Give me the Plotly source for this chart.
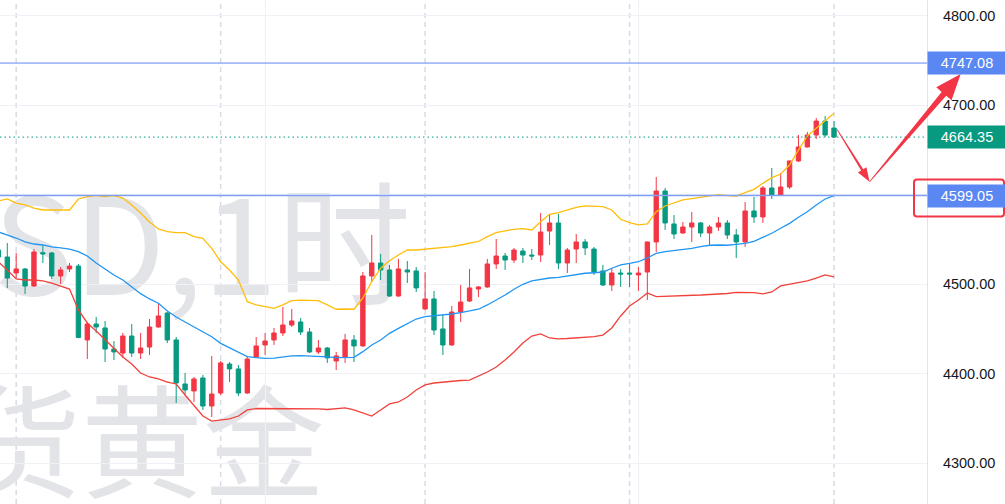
import math
import plotly.graph_objects as go

# ---------------- data ----------------
idx = list(range(-1, 94))

open_ = [4538.2, 4530.4, 4512.5, 4517.0, 4498.0, 4535.2, 4534.9, 4509.2, 4517.0, 4520.3,
         4437.7, 4455.5, 4451.1, 4427.6, 4423.1, 4442.1, 4423.1, 4429.8, 4452.2, 4467.8,
         4437.7, 4388.5, 4380.7, 4395.2, 4363.9, 4378.4, 4410.8, 4405.3, 4378.4, 4418.7,
         4432.1, 4437.7, 4445.5, 4454.4, 4457.8, 4446.6, 4424.3, 4428.7, 4414.2, 4418.7,
         4437.7, 4431.0, 4509.2, 4523.7, 4515.9, 4486.8, 4515.9, 4514.8, 4472.3, 4483.5,
         4450.0, 4432.1, 4468.9, 4481.2, 4494.6, 4496.9, 4522.6, 4531.5, 4527.0, 4537.1,
         4532.6, 4532.6, 4559.4, 4568.4, 4523.7, 4539.3, 4547.2, 4539.3, 4514.8, 4499.1,
         4512.5, 4512.5, 4510.3, 4513.6, 4547.2, 4604.1, 4567.3, 4557.2, 4563.9, 4568.4,
         4557.2, 4563.9, 4568.4, 4555.0, 4547.2, 4581.8, 4575.1, 4607.5, 4599.7, 4608.6,
         4637.7, 4653.3, 4666.7, 4682.3, 4674.5]
high = [4540.5, 4546.0, 4534.9, 4518.1, 4539.3, 4543.8, 4536.0, 4519.2, 4523.7, 4522.6,
        4457.8, 4463.4, 4458.9, 4436.5, 4445.5, 4455.5, 4445.5, 4461.1, 4479.0, 4468.9,
        4441.0, 4400.8, 4396.3, 4398.6, 4419.8, 4414.2, 4413.1, 4409.7, 4419.8, 4441.0,
        4445.5, 4451.1, 4474.5, 4472.3, 4462.2, 4451.1, 4437.7, 4429.8, 4424.3, 4444.4,
        4443.2, 4513.6, 4555.0, 4533.8, 4521.5, 4528.2, 4525.9, 4519.2, 4513.6, 4492.4,
        4465.6, 4475.6, 4499.1, 4517.0, 4498.0, 4528.2, 4550.5, 4534.9, 4540.5, 4540.5,
        4539.3, 4579.6, 4577.3, 4578.4, 4540.5, 4556.1, 4550.5, 4541.6, 4521.5, 4518.1,
        4517.0, 4523.7, 4519.2, 4547.5, 4619.8, 4607.5, 4577.3, 4569.5, 4580.7, 4569.5,
        4566.2, 4575.1, 4571.7, 4561.7, 4591.8, 4597.4, 4609.7, 4629.8, 4624.2, 4637.9,
        4666.7, 4670.1, 4685.7, 4687.9, 4682.3]
low = [4527.0, 4495.8, 4506.9, 4489.1, 4497.0, 4523.7, 4505.8, 4500.2, 4513.6, 4439.5,
       4416.4, 4445.5, 4413.1, 4415.3, 4417.6, 4418.7, 4416.4, 4420.9, 4451.5, 4434.3,
       4367.3, 4376.2, 4368.4, 4359.5, 4351.6, 4376.2, 4390.7, 4375.1, 4377.5, 4418.0,
       4420.9, 4432.1, 4442.1, 4452.2, 4443.2, 4423.1, 4422.0, 4412.0, 4404.1, 4412.0,
       4413.1, 4430.0, 4502.5, 4504.7, 4485.7, 4486.0, 4501.3, 4491.3, 4471.2, 4443.2,
       4420.9, 4431.0, 4457.8, 4480.1, 4485.7, 4496.0, 4517.0, 4515.9, 4523.7, 4523.7,
       4527.0, 4524.8, 4543.8, 4517.0, 4512.5, 4523.7, 4532.6, 4510.3, 4498.0, 4492.4,
       4496.9, 4496.9, 4492.4, 4482.3, 4536.0, 4560.6, 4550.5, 4556.5, 4547.2, 4552.7,
       4543.8, 4559.4, 4550.5, 4529.3, 4541.6, 4568.4, 4568.4, 4595.2, 4599.0, 4606.4,
       4636.5, 4652.8, 4662.2, 4664.4, 4663.4]
close = [4530.4, 4506.9, 4517.0, 4498.0, 4536.0, 4533.8, 4509.2, 4515.9, 4520.3, 4440.5,
         4455.5, 4452.2, 4427.6, 4424.3, 4442.1, 4423.1, 4428.7, 4452.2, 4464.5, 4437.7,
         4389.6, 4381.8, 4394.1, 4363.9, 4377.3, 4412.0, 4405.3, 4378.4, 4416.4, 4431.0,
         4436.5, 4445.5, 4454.4, 4458.9, 4446.6, 4424.3, 4428.7, 4417.6, 4419.8, 4437.7,
         4431.0, 4509.2, 4523.7, 4515.9, 4486.8, 4517.0, 4513.6, 4495.8, 4483.5, 4448.8,
         4432.1, 4468.9, 4480.1, 4495.8, 4496.9, 4522.6, 4531.5, 4527.0, 4538.2, 4532.6,
         4531.5, 4558.3, 4568.4, 4523.7, 4538.2, 4547.2, 4540.5, 4513.6, 4499.1, 4512.5,
         4511.4, 4511.4, 4512.5, 4547.2, 4604.1, 4568.4, 4556.1, 4563.9, 4568.4, 4557.2,
         4563.9, 4568.4, 4555.0, 4547.2, 4581.8, 4575.1, 4607.5, 4599.7, 4608.6, 4637.7,
         4653.3, 4666.7, 4682.3, 4666.7, 4664.35]

bb_upper = [4593.0, 4595.2, 4590.7, 4588.5, 4585.1, 4582.9, 4582.9, 4582.9, 4582.9, 4595.2,
            4597.8, 4598.9, 4597.8, 4598.9, 4596.3, 4588.5, 4579.6, 4569.5, 4561.7, 4558.7,
            4557.6, 4557.6, 4553.1, 4551.3, 4540.1, 4525.1, 4515.9, 4504.7, 4480.5, 4476.8,
            4474.9, 4473.1, 4476.8, 4481.6, 4482.3, 4482.3, 4481.6, 4476.8, 4472.0, 4472.3,
            4472.0, 4484.6, 4502.8, 4517.8, 4526.3, 4532.6, 4538.2, 4538.2, 4539.0, 4540.1,
            4541.2, 4541.9, 4543.8, 4545.7, 4547.7, 4553.1, 4557.6, 4559.5, 4561.3, 4562.0,
            4560.6, 4569.8, 4578.1, 4579.9, 4582.9, 4585.9, 4587.4, 4587.4, 4586.6, 4582.9,
            4572.5, 4568.7, 4566.2, 4567.3, 4581.0, 4587.4, 4591.1, 4594.1, 4595.5, 4597.1,
            4598.9, 4600.0, 4598.9, 4598.5, 4602.2, 4606.0, 4612.7, 4619.0, 4623.1, 4633.2,
            4649.9, 4665.6, 4674.2, 4682.7, 4690.9]
bb_mid = [4558.3, 4555.0, 4551.6, 4547.2, 4544.9, 4543.8, 4541.6, 4540.5, 4539.3, 4536.3,
          4531.5, 4523.7, 4517.0, 4510.3, 4504.7, 4496.9, 4489.4, 4483.5, 4478.7, 4470.1,
          4463.4, 4457.8, 4452.5, 4446.9, 4441.3, 4433.9, 4428.7, 4423.5, 4419.0, 4417.9,
          4417.2, 4417.5, 4419.0, 4419.8, 4420.1, 4419.8, 4419.8, 4418.7, 4417.9, 4417.9,
          4418.3, 4424.6, 4432.1, 4437.7, 4445.1, 4450.7, 4456.3, 4461.1, 4463.7, 4464.5,
          4465.6, 4466.7, 4468.2, 4469.7, 4472.0, 4476.8, 4482.3, 4487.9, 4494.3, 4499.9,
          4503.6, 4505.5, 4506.9, 4507.7, 4509.2, 4511.4, 4512.2, 4512.8, 4513.6, 4517.8,
          4521.5, 4523.3, 4525.1, 4529.3, 4534.5, 4536.3, 4537.4, 4539.0, 4540.1, 4541.9,
          4543.5, 4543.8, 4543.5, 4544.6, 4545.7, 4547.9, 4552.4, 4556.9, 4562.5, 4568.0,
          4574.8, 4581.0, 4588.5, 4595.2, 4599.05]
bb_lower = [4524.8, 4515.9, 4505.8, 4504.7, 4504.7, 4503.6, 4501.3, 4498.0, 4494.6, 4471.2,
            4456.7, 4447.7, 4437.7, 4427.6, 4418.7, 4410.8, 4400.8, 4396.3, 4394.1, 4390.7,
            4388.5, 4376.2, 4363.9, 4352.7, 4347.1, 4348.3, 4349.4, 4352.7, 4359.5, 4361.1,
            4361.1, 4361.1, 4361.1, 4361.1, 4360.6, 4360.6, 4360.6, 4360.0, 4360.6, 4361.7,
            4359.5, 4356.1, 4352.7, 4359.5, 4366.2, 4368.4, 4374.0, 4381.8, 4387.4, 4389.6,
            4390.7, 4391.8, 4392.4, 4392.9, 4397.4, 4401.9, 4407.5, 4415.3, 4424.3, 4434.3,
            4442.1, 4444.4, 4439.9, 4438.8, 4439.3, 4439.9, 4440.4, 4441.5, 4443.2, 4451.1,
            4464.5, 4475.6, 4482.3, 4490.2, 4486.1, 4486.3, 4486.5, 4486.8, 4487.4, 4487.9,
            4488.5, 4488.7, 4489.6, 4490.9, 4490.7, 4490.5, 4489.1, 4491.3, 4498.0, 4499.7,
            4501.3, 4503.6, 4506.9, 4510.3, 4508.1]

level_top = 4747.08
level_last = 4664.35
level_mid = 4599.05
session_breaks = [1, 24, 47, 70, 93]
grid_x = [29, 71]
y_ticks = [4300, 4400, 4500, 4600, 4700, 4800]
watermark_1 = "XAUUSD,1时"
watermark_2 = "现货黄金"
# arrow anchors (bar index, price): from last bar down, then up to target
arrow_pts = [(93.35, 4672.8), (97.0, 4614.5), (107.25, 4734.9)]

# ---------------- layout geometry ----------------
W, H = 1005, 504
M_R = 78
PW = W - M_R
x_range = [-0.82, 103.46]
y_range = [4254.4, 4817.54]

UP = "#F23645"
DOWN = "#089981"
BLUE = "#5b87f3"
FONT = "Liberation Sans, Arial, sans-serif"


def to_px(xv, yv):
    px = (xv - x_range[0]) / (x_range[1] - x_range[0]) * PW
    py = (y_range[1] - yv) / (y_range[1] - y_range[0]) * H
    return px, py


def to_paper(px, py):
    return px / PW, 1 - py / H


def path_from_px(points, close_path=True):
    parts = []
    for i, (px, py) in enumerate(points):
        xp, yp = to_paper(px, py)
        parts.append(("M" if i == 0 else "L") + f"{xp:.5f},{yp:.5f}")
    return " ".join(parts) + (" Z" if close_path else "")


def arrow_shape(p0, p1, w0, w1, head_len, head_hw):
    (x0, y0), (x1, y1) = p0, p1
    dx, dy = x1 - x0, y1 - y0
    L = math.hypot(dx, dy)
    ux, uy = dx / L, dy / L
    nx, ny = -uy, ux
    bx, by = x1 - ux * head_len, y1 - uy * head_len
    pts = [(x0 + nx * w0 / 2, y0 + ny * w0 / 2),
           (bx + nx * w1 / 2, by + ny * w1 / 2),
           (bx + nx * head_hw, by + ny * head_hw),
           (x1, y1),
           (bx - nx * head_hw, by - ny * head_hw),
           (bx - nx * w1 / 2, by - ny * w1 / 2),
           (x0 - nx * w0 / 2, y0 - ny * w0 / 2)]
    return dict(type="path", xref="paper", yref="paper", path=path_from_px(pts),
                fillcolor=UP, line=dict(width=0), layer="above")


fig = go.Figure()

fig.add_trace(go.Candlestick(
    x=idx, open=open_, high=high, low=low, close=close,
    increasing=dict(line=dict(color=UP, width=1), fillcolor=UP),
    decreasing=dict(line=dict(color=DOWN, width=1), fillcolor=DOWN),
    whiskerwidth=0, hoverinfo="skip", showlegend=False))

for series, color in [(bb_upper, "#FFBE0B"), (bb_mid, "#2196F3"), (bb_lower, "#F0413A")]:
    fig.add_trace(go.Scatter(x=idx, y=series, mode="lines",
                             line=dict(color=color, width=1.3),
                             hoverinfo="skip", showlegend=False))

shapes = []
# session separators
for s in session_breaks:
    shapes.append(dict(type="line", xref="x", yref="paper", x0=s, x1=s, y0=0, y1=1,
                       line=dict(color="#d8dbe5", width=1.5, dash="5px,4px"), layer="below"))
# watermark (below traces)
wm = [(watermark_1, 414, 208, 308, 134), (watermark_2, 328, 397, 512, 122)]
for text, right_px, top_px, bot_px, size in wm:
    xr, yt = to_paper(right_px, top_px)
    _, yb = to_paper(right_px, bot_px)
    shapes.append(dict(type="rect", xref="paper", yref="paper", x0=-1, x1=xr, y0=yb, y1=yt,
                       line=dict(width=0), fillcolor="rgba(0,0,0,0)", layer="below",
                       label=dict(text=text, textposition="middle right", padding=0,
                                  font=dict(size=size, color="#e3e4e8",
                                            family="Noto Sans CJK SC"))))
# horizontal levels
shapes.append(dict(type="line", xref="paper", yref="y", x0=0, x1=1, y0=level_top, y1=level_top,
                   line=dict(color=BLUE, width=1)))
shapes.append(dict(type="line", xref="paper", yref="y", x0=0, x1=1, y0=level_mid, y1=level_mid,
                   line=dict(color="#7f9ff5", width=1.6)))
shapes.append(dict(type="line", xref="paper", yref="y", x0=0, x1=1, y0=level_last, y1=level_last,
                   line=dict(color=DOWN, width=1, dash="1.5px,3px")))
# red arrows
a0 = to_px(*arrow_pts[0])
a1 = to_px(*arrow_pts[1])
a2 = to_px(*arrow_pts[2])
shapes.append(arrow_shape(a0, a1, 0.8, 2.4, 14, 5))
shapes.append(arrow_shape(a1, a2, 0.8, 6.0, 26, 10))
# red rounded box around the middle-band price label
_, cy = to_px(0, level_mid)
L_, R_, T_, B_, r = PW - 13, PW + 77, cy - 16, cy + 21, 3
rx0, ry0 = to_paper(L_, T_)
rx1, ry1 = to_paper(R_, B_)
rrx, rry = r / PW, r / H
rbox = (f"M{rx0 + rrx:.5f},{ry0:.5f} L{rx1 - rrx:.5f},{ry0:.5f} Q{rx1:.5f},{ry0:.5f} {rx1:.5f},{ry0 - rry:.5f} "
        f"L{rx1:.5f},{ry1 + rry:.5f} Q{rx1:.5f},{ry1:.5f} {rx1 - rrx:.5f},{ry1:.5f} "
        f"L{rx0 + rrx:.5f},{ry1:.5f} Q{rx0:.5f},{ry1:.5f} {rx0:.5f},{ry1 + rry:.5f} "
        f"L{rx0:.5f},{ry0 - rry:.5f} Q{rx0:.5f},{ry0:.5f} {rx0 + rrx:.5f},{ry0:.5f} Z")
shapes.append(dict(type="path", xref="paper", yref="paper", path=rbox,
                   line=dict(color=UP, width=2), fillcolor="rgba(0,0,0,0)"))

annotations = []
for val, col in [(level_top, BLUE), (level_last, DOWN), (level_mid, BLUE)]:
    annotations.append(dict(x=1, xref="paper", xanchor="left", y=val, yref="y", yanchor="middle",
                            text=f"{val:.2f}", showarrow=False, bgcolor=col, width=74, height=18,
                            borderpad=2, align="center",
                            font=dict(color="white", size=14.5, family=FONT)))

fig.update_layout(
    width=W, height=H,
    margin=dict(l=0, r=M_R, t=0, b=0),
    paper_bgcolor="white", plot_bgcolor="white",
    showlegend=False,
    shapes=shapes, annotations=annotations,
    xaxis=dict(range=x_range, rangeslider=dict(visible=False), showticklabels=False, ticks="",
               tickvals=grid_x, showgrid=True, gridcolor="#eff1f6", gridwidth=1,
               zeroline=False, showline=False, fixedrange=True),
    yaxis=dict(side="right", range=y_range, tickvals=y_ticks, tickformat=".2f",
               showgrid=True, gridcolor="#eff1f6", gridwidth=1, zeroline=False,
               showline=True, linecolor="#e0e3eb", linewidth=1, ticks="",
               ticklabelstandoff=12,
               tickfont=dict(family=FONT, size=14.5, color="#131722"), fixedrange=True),
)

fig.write_html("out.html", config={"displayModeBar": False},
               post_script="document.body.style.margin='0';document.body.style.padding='0';"
                           "document.body.style.overflow='hidden';")
